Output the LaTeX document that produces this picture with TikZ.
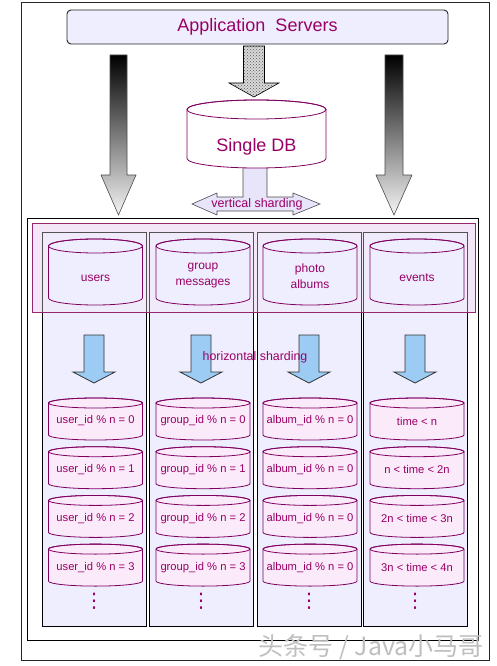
\documentclass[tikz,border=0pt]{standalone}
\usepackage{fontspec}
\setmainfont{Liberation Sans}
\newfontfamily\cjkfont{Noto Sans CJK SC}
\newfontfamily\dejavu{DejaVu Sans}
\usetikzlibrary{patterns}
\definecolor{mag}{RGB}{153,0,102}
\definecolor{cylline}{RGB}{128,0,96}
\definecolor{lav}{RGB}{238,238,254}
\definecolor{pinkbox}{RGB}{243,230,247}
\definecolor{pinkcyl}{RGB}{250,234,250}
\definecolor{boxline}{RGB}{150,40,110}
\definecolor{bluearr}{RGB}{156,204,244}
\definecolor{vsh}{RGB}{232,228,250}
\newcommand\dbshape[6]{%
  \filldraw[fill=#6, draw=cylline, line width=0.8pt]
    (#1-#4,#2) -- (#1-#4,#3) arc[start angle=180, end angle=0, x radius=#4, y radius=#5]
    -- (#1+#4,#2) arc[start angle=0, end angle=-180, x radius=#4, y radius=#5] -- cycle;
  \draw[cylline, line width=0.8pt] (#1,#2) ellipse[x radius=#4, y radius=#5];
}
\newcommand\dnarrow[7]{%
  \path[#7] (#1-#2,#4) -- (#1+#2,#4) -- (#1+#2,#5) -- (#1+#3,#5) -- (#1,#6)
    -- (#1-#3,#5) -- (#1-#2,#5) -- cycle;
}
\tikzset{
  lbl/.style={inner sep=0pt, text=mag, font=\fontsize{12}{16}\selectfont, align=center},
  sml/.style={inner sep=0pt, text=mag, font=\fontsize{11.2}{13}\selectfont},
  bigl/.style={inner sep=0pt, text=mag, font=\fontsize{18}{21}\selectfont},
  dotsl/.style={inner sep=0pt, text=mag, font=\dejavu\fontsize{20}{20}\selectfont},
  colbox/.style={draw=black, line width=1pt, fill=lav, inner sep=0pt, outer sep=0pt,
    minimum width=104pt, minimum height=394pt},
  gradarrow/.style={draw=black!70, line width=0.6pt, top color=black, bottom color=gray!8},
  bluearrow/.style={draw=black!80, line width=0.8pt, fill=bluearr},
}
\begin{document}
\begin{tikzpicture}[x=1pt,y=-1pt]
\useasboundingbox (0,0) rectangle (497,666);
\fill[white] (0,0) rectangle (497,666);
% outer frame
\draw[line width=1pt, black!85] (21,3) rectangle (489,660);
% application servers
\node[draw=black!85, line width=0.9pt, rounded corners=4pt, fill=lav, minimum width=381pt,
  minimum height=34pt, bigl] (app) at (257.5,27) {Application\ \ Servers};
% big arrows
\dnarrow{118.5}{8.5}{17.5}{55}{175}{215}{gradarrow}
\dnarrow{394}{9}{18}{55}{175}{215}{gradarrow}
\dnarrow{254}{10.5}{25}{46}{83}{97}{fill=gray!30}
\dnarrow{254}{10.5}{25}{46}{83}{97}{pattern=crosshatch dots, pattern color=black!65}
\dnarrow{254}{10.5}{25}{46}{83}{97}{draw=black, line width=0.6pt}
% vertical sharding arrow
\draw[fill=vsh, draw=black!70, line width=0.6pt] (243,150) -- (243,197) -- (217,197) -- (217,193)
  -- (192,204) -- (217,215) -- (217,211) -- (293,211) -- (293,215) -- (320,204) -- (293,193)
  -- (293,197) -- (267,197) -- (267,150) -- cycle;
% single DB
\dbshape{256.5}{109.5}{158.5}{69.5}{9.5}{white}
\node[bigl] (single) at (256.5,147) {Single DB};
\node[lbl, font=\fontsize{12.5}{14}\selectfont] (vs) at (257,204) {vertical sharding};
% inner frame
\draw[line width=1pt, black] (27,218) rectangle (478,640);
\fill[pinkbox] (32,223) rectangle (475,312);
% columns
\node[colbox] (col1) at (94,429) {};
\node[colbox] (col2) at (201,429) {};
\node[colbox] (col3) at (309,429) {};
\node[colbox] (col4) at (415,429) {};
% vertical sharding box outline
\fill[pinkbox, opacity=0.35] (32,223) rectangle (475,312);
\draw[boxline, line width=1pt] (32,223) rectangle (475,312);
% top cylinders
\dbshape{95.5}{246}{298}{47}{7}{lav}
\dbshape{203}{246}{298}{47}{7}{lav}
\dbshape{310}{246}{298}{47}{7}{lav}
\dbshape{417}{246}{298}{47}{7}{lav}
\node[lbl] (users) at (95.5,278) {users};
\node[lbl] (group) at (203,276) {group\\messages};
\node[lbl] (photo) at (310,276) {photo\\albums};
\node[lbl] (events) at (417,278) {events};
% blue arrows
\dnarrow{94}{10}{21}{335}{372}{383}{bluearrow}
\dnarrow{201}{10}{21}{335}{372}{383}{bluearrow}
\dnarrow{309}{10}{21}{335}{372}{383}{bluearrow}
\dnarrow{415}{10}{21}{335}{372}{383}{bluearrow}
\node[lbl, font=\fontsize{12.4}{14}\selectfont] (hs) at (255,357) {horizontal sharding};
% small cylinders
\foreach \k in {0,1,2,3} {
  \pgfmathsetmacro\yt{403+48.7*\k}
  \pgfmathsetmacro\yb{\yt+32}
  \dbshape{95.5}{\yt}{\yb}{47}{5}{pinkcyl}
  \dbshape{203}{\yt}{\yb}{47}{5}{pinkcyl}
  \dbshape{310}{\yt}{\yb}{47}{5}{pinkcyl}
  \dbshape{417}{\yt}{\yb}{47}{5}{pinkcyl}
}
\node[sml] (u0) at (95.5,421) {user\_id \% n = 0};
\node[sml] (u1) at (95.5,469.7) {user\_id \% n = 1};
\node[sml] (u2) at (95.5,518.4) {user\_id \% n = 2};
\node[sml] (u3) at (95.5,567.1) {user\_id \% n = 3};
\node[sml] (g0) at (203,421) {group\_id \% n = 0};
\node[sml] (g1) at (203,469.7) {group\_id \% n = 1};
\node[sml] (g2) at (203,518.4) {group\_id \% n = 2};
\node[sml] (g3) at (203,567.1) {group\_id \% n = 3};
\node[sml] (a0) at (310,421) {album\_id \% n = 0};
\node[sml] (a1) at (310,469.7) {album\_id \% n = 0};
\node[sml] (a2) at (310,518.4) {album\_id \% n = 0};
\node[sml] (a3) at (310,567.1) {album\_id \% n = 0};
\node[sml] (t0) at (417,421) {time < n};
\node[sml] (t1) at (417,469.7) {n < time < 2n};
\node[sml] (t2) at (417,518.4) {2n < time < 3n};
\node[sml] (t3) at (417,567.1) {3n < time < 4n};
% dots
\node[dotsl] (d1) at (94,601) {⋮};
\node[dotsl] (d2) at (201,601) {⋮};
\node[dotsl] (d3) at (309,601) {⋮};
\node[dotsl] (d4) at (415,601) {⋮};
% watermark
\node[anchor=east, inner sep=0pt, text=gray!50, font=\cjkfont\fontsize{25}{27}\selectfont]
  (wm) at (484,647) {头条号 / Java小马哥};
\end{tikzpicture}
\end{document}
